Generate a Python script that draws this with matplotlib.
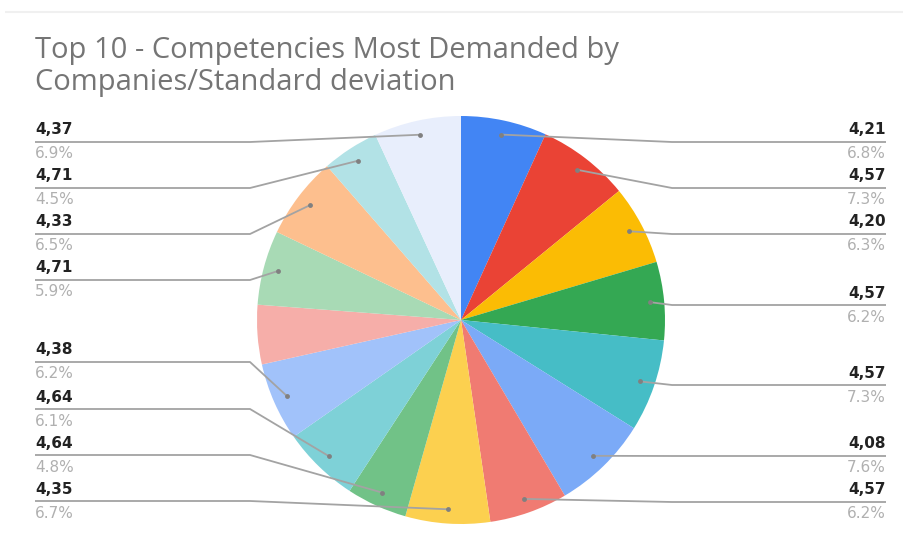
import matplotlib
matplotlib.use("Agg")
import matplotlib.pyplot as plt
import numpy as np

plt.rcParams['font.family'] = ['DejaVu Sans']

# ---------------- data ----------------
title_lines = ["Top 10 - Competencies Most Demanded by", "Companies/Standard deviation"]
shares = [6.8, 7.3, 6.3, 6.2, 7.3, 7.6, 6.2, 6.7, 4.8, 6.1, 6.2, 4.7, 5.9, 6.5, 4.5, 6.9]
values = [4.21, 4.57, 4.20, 4.57, 4.57, 4.08, 4.57, 4.35, 4.64, 4.64, 4.38, None, 4.71, 4.33, 4.71, 4.37]
colors = ['#4285F4', '#EA4335', '#FBBC04', '#34A853', '#46BDC6', '#7BAAF7', '#F07B72', '#FCD04F',
          '#71C287', '#7ED1D7', '#A1C2FA', '#F6AEA9', '#A8DAB5', '#FDBF8E', '#B2E2E6', '#E8EEFC']

# ---------------- layout (pixels) ----------------
W, H = 904, 551
cx, cy, R = 461, 320, 204
label_y = [142, 188, 234, 305, 385, 456, 502, 501, 455, 409, 362, None, 280, 234, 188, 142]
left_x0, left_bend = 35, 250
right_bend, right_x1 = 672, 886

fig = plt.figure(figsize=(W / 100, H / 100), dpi=100)
ax = fig.add_axes([0, 0, 1, 1])

wedges, _ = ax.pie(shares, colors=colors, startangle=-90, counterclock=True,
                   center=(cx, cy), radius=R, wedgeprops=dict(linewidth=0))
ax.set_xlim(0, W)
ax.set_ylim(H, 0)
ax.set_aspect('equal')
ax.axis('off')

# faint top border
ax.plot([5, W], [12, 12], color='#f0f0f0', lw=1.5, solid_capstyle='butt')

# title
title_font = ['Open Sans', 'DejaVu Sans']
ax.text(35, 58, title_lines[0], fontsize=21, color='#757575', va='baseline', ha='left',
        family=title_font)
ax.text(35, 90, title_lines[1], fontsize=21, color='#757575', va='baseline', ha='left',
        family=title_font)

line_col = '#a3a3a3'
for w, v, p, ly in zip(wedges, values, shares, label_y):
    if v is None or ly is None:
        continue
    th = np.deg2rad((w.theta1 + w.theta2) / 2)
    ax_, ay_ = cx + 0.93 * R * np.cos(th), cy + 0.93 * R * np.sin(th)
    right = np.cos(th) > 0
    if right:
        xs = [ax_, right_bend, right_x1]
        tx, ha = right_x1, 'right'
    else:
        xs = [ax_, left_bend, left_x0]
        tx, ha = left_x0, 'left'
    ax.plot(xs, [ay_, ly, ly], color=line_col, lw=1.3, solid_capstyle='butt', zorder=3)
    ax.plot([ax_], [ay_], 'o', color='#808080', ms=3.5, mew=0, zorder=4)
    ax.text(tx, ly - 12, f"{v:.2f}".replace('.', ','), fontsize=11, fontweight='bold',
            color='#222222', ha=ha, va='center')
    ax.text(tx, ly + 12, f"{p:.1f}%", fontsize=11, color='#b0b0b0', ha=ha, va='center')

fig.savefig('out.png', dpi=100, facecolor='white')
